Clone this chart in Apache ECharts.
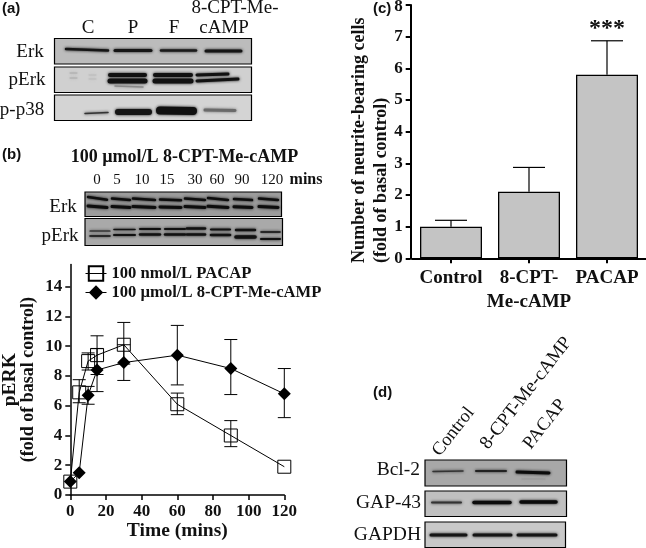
<!DOCTYPE html>
<html>
<head>
<meta charset="utf-8">
<style>html,body{margin:0;padding:0;background:#fff}#c{width:646px;height:548px}</style>
<script src="https://cdn.jsdelivr.net/npm/echarts@6/dist/echarts.min.js"></script>
</head>
<body>
<div id="c"></div>
<script>
const timePoints = [0, 5, 10, 15, 30, 60, 90, 120];
const pacapName = '100 nmol/L PACAP';
const pacapMean = [0.9, 6.9, 9.0, 9.4, 10.1, 6.1, 4.0, 1.9];
const pacapLow = [null, 6.2, 8.4, 8.1, 8.8, 5.4, 3.25, null];
const pacapHigh = [null, 7.75, 9.55, 10.7, 11.6, 6.85, 5.0, null];
const campName = '100 µmol/L 8-CPT-Me-cAMP';
const campMean = [0.9, 1.5, 6.7, 8.4, 8.9, 9.4, 8.5, 6.8];
const campLow = [null, null, 6.1, 6.95, 7.7, 7.4, 6.75, 5.2];
const campHigh = [null, null, 7.3, 9.85, 10.1, 11.4, 10.45, 8.5];
const lineYTicks = [0, 2, 4, 6, 8, 10, 12, 14];

const barCategories = ['Control', '8-CPT-\nMe-cAMP', 'PACAP'];
const barMean = [1.0, 2.1, 5.8];
const barHigh = [1.2, 2.87, 6.87];
const barSig = ['', '', '***'];

const SERIF = '"Liberation Serif","Times New Roman",serif';
const SANS = '"Liberation Sans",Arial,sans-serif';
const g = [];
function txt(x, y, text, size, o) {
  o = o || {};
  g.push({
    type: 'text', x, y, rotation: o.rot || 0, silent: true, z: 10,
    style: {
      text, fill: '#111', align: o.align || 'center', verticalAlign: 'middle',
      font: (o.bold ? 'bold ' : '') + size + 'px ' + (o.fam || SERIF)
    }
  });
}
function box(x1, y1, x2, y2, bg) {
  g.push({
    type: 'rect', silent: true, z: 5,
    shape: { x: x1, y: y1, width: x2 - x1, height: y2 - y1 },
    style: { fill: bg, stroke: '#000', lineWidth: 1.2 }
  });
}
function band(x1, y1, x2, y2, w, col) {
  g.push({
    type: 'line', silent: true, z: 6,
    shape: { x1, y1, x2, y2 },
    style: { stroke: col || '#111', lineWidth: w, lineCap: 'round', shadowBlur: 3, shadowColor: col || '#111' }
  });
}
txt(2, 9, '(a)', 15, { bold: 1, fam: SANS, align: 'left' });
txt(2, 155, '(b)', 15, { bold: 1, fam: SANS, align: 'left' });
txt(373, 9, '(c)', 15, { bold: 1, fam: SANS, align: 'left' });
txt(373, 393, '(d)', 15, { bold: 1, fam: SANS, align: 'left' });

// panel a
txt(88, 28, 'C', 19); txt(133, 28, 'P', 19); txt(174, 28, 'F', 19);
txt(235, 8, '8-CPT-Me-', 19); txt(224, 28, 'cAMP', 19);
txt(30, 52, 'Erk', 19); txt(27, 80, 'pErk', 19); txt(22, 110, 'p-p38', 19);
box(54.5, 38.5, 251.5, 64, '#bcbcbc');
band(66, 49, 108, 50.5, 2.5, '#151515'); band(115, 50.5, 151, 50.5, 3, '#151515');
band(161, 50.5, 196, 50.5, 2.5, '#1a1a1a'); band(206, 51, 241, 51, 3, '#151515');
box(54.5, 67, 251.5, 92.5, '#d0d0d0');
band(70, 73, 77, 73, 1, '#aaa'); band(70, 78, 77, 78, 1, '#aaa'); band(89, 75, 96, 75, 1, '#bbb'); band(89, 79, 96, 79, 1, '#bbb');
band(110, 75, 145, 75, 4, '#111'); band(110, 81, 145, 81, 5, '#111'); band(115, 86, 143, 87, 1.5, '#888');
band(155, 75, 191, 75, 4, '#111'); band(155, 81, 191, 81, 5, '#111');
band(197, 75, 228, 74, 3, '#111'); band(197, 81, 238, 79, 3, '#111');
box(54.5, 95, 251.5, 120.5, '#d4d4d4');
band(85, 113.5, 108, 112.5, 1.5, '#333'); band(118, 112, 149, 112, 6, '#151515');
band(160, 110.5, 193, 111, 8, '#101010'); band(205, 110, 235, 110.5, 3, '#6a6a6a');

// panel b
txt(184.5, 157, '100 µmol/L 8-CPT-Me-cAMP', 18, { bold: 1 });
[[97, '0'], [117, '5'], [142, '10'], [167, '15'], [195, '30'], [217, '60'], [242, '90'], [272, '120']]
  .forEach(p => txt(p[0], 180, p[1], 15));
txt(306, 180, 'mins', 16, { bold: 1 });
txt(63, 207, 'Erk', 19); txt(60, 236, 'pErk', 19);
box(85, 192, 281.5, 216.5, '#9c9c9c');
[[88, 107, -1.5], [112, 130, 0], [133, 155, 0], [160, 181, 1], [185, 205, 0], [208, 228, -0.5], [234, 252, 0.5], [259, 278, 0]]
  .forEach(l => {
    band(l[0], 198.5 + l[2], l[1], 200 + l[2] * 0.2, 2.5, '#0d0d0d');
    band(l[0], 206.5 + l[2] * 0.4, l[1], 207.5, 3, '#0d0d0d');
  });
box(85, 218.5, 282.5, 245.5, '#a9a9a9');
[[90, 110, 231, 1.2, 236, 1.6], [114, 135, 229.5, 1.6, 235, 2], [140, 160, 229, 2.2, 234.5, 2.4], [165, 185, 229, 2.2, 234.5, 2.4],
 [187, 205, 228.5, 2.6, 234.5, 2.6], [211, 230, 229.5, 2.2, 235, 2.6], [236, 255, 230, 2.4, 237, 3.6], [261, 280, 232, 1.6, 239, 2.2]]
  .forEach(l => { band(l[0], l[2], l[1], l[2], l[3], '#111'); band(l[0], l[4], l[1], l[4], l[5], '#111'); });

// panel d
const rot = 52 * Math.PI / 180;
txt(436, 454, 'Control', 18.5, { align: 'left', rot });
txt(484, 447, '8-CPT-Me-cAMP', 19, { align: 'left', rot });
txt(527, 447, 'PACAP', 18.5, { align: 'left', rot });
txt(420, 470, 'Bcl-2', 19.5, { align: 'right' });
txt(421, 503, 'GAP-43', 19.5, { align: 'right' });
txt(421, 535, 'GAPDH', 19.5, { align: 'right' });
box(425, 460, 566.5, 486, '#a8a8a8');
band(433, 471.5, 463, 471, 1.5, '#333'); band(476, 471, 506, 471, 2, '#222'); band(517, 472, 549, 473, 3, '#0c0c0c');
band(522, 479, 545, 479, 1, '#999');
box(425, 491, 566.5, 516.5, '#c0c0c0');
band(432, 502.5, 461, 502.5, 2, '#333'); band(474, 502.5, 510, 502.5, 3.5, '#0c0c0c'); band(521, 502, 556, 502, 3.5, '#0c0c0c');
box(425, 522, 565.5, 547.5, '#c8c8c8');
band(431, 535, 466, 535, 3, '#151515'); band(474, 535, 511, 535, 3, '#151515'); band(518, 535, 556, 535, 3, '#151515');

function axisCommon(extra) {
  return Object.assign({
    axisLine: { show: true, onZero: false, lineStyle: { color: '#000', width: 1.5 } },
    axisTick: { show: true, length: 5, lineStyle: { color: '#000', width: 1.5 } },
    axisLabel: { color: '#111', fontFamily: SERIF, fontWeight: 'bold', fontSize: 17 },
    splitLine: { show: false }
  }, extra);
}
const errRows = (mean, lo, hi) => timePoints.map((t, i) => [t, lo[i], hi[i], mean[i]]);
function lineErr(params, api) {
  const x = api.value(0), lo = api.value(1), hi = api.value(2);
  if (isNaN(lo) || isNaN(hi)) return null;
  const a = api.coord([x, lo]), b = api.coord([x, hi]);
  const cap = 6.5, st = { stroke: '#000', lineWidth: 1, fill: 'none' };
  return {
    type: 'group', children: [
      { type: 'line', shape: { x1: a[0], y1: a[1], x2: b[0], y2: b[1] }, style: st },
      { type: 'line', shape: { x1: a[0] - cap, y1: a[1], x2: a[0] + cap, y2: a[1] }, style: st },
      { type: 'line', shape: { x1: b[0] - cap, y1: b[1], x2: b[0] + cap, y2: b[1] }, style: st }
    ]
  };
}
function barErr(params, api) {
  const i = api.value(0), m = api.coord([i, api.value(1)]), h = api.coord([i, api.value(2)]);
  const sig = barSig[params.dataIndex], st = { stroke: '#000', lineWidth: 1.2, fill: 'none' };
  const kids = [
    { type: 'line', shape: { x1: m[0], y1: m[1], x2: h[0], y2: h[1] }, style: st },
    { type: 'line', shape: { x1: h[0] - 16, y1: h[1], x2: h[0] + 16, y2: h[1] }, style: st }
  ];
  if (sig) kids.push({
    type: 'text', x: h[0], y: h[1] - 12,
    style: { text: sig, fill: '#111', font: 'bold 24px ' + SERIF, align: 'center', verticalAlign: 'middle' }
  });
  return { type: 'group', children: kids };
}

const chart = echarts.init(document.getElementById('c'), null, { renderer: 'canvas' });
chart.setOption({
  animation: false,
  backgroundColor: '#fff',
  grid: [
    { left: 70.3, top: 264.4, width: 214, height: 230.6, outerBoundsMode: 'none' },
    { left: 412, top: 5, width: 234, height: 253.3, outerBoundsMode: 'none' }
  ],
  legend: {
    data: [pacapName, campName], orient: 'vertical', left: 85, top: 265, padding: 0,
    itemWidth: 21, itemHeight: 18, itemGap: 2,
    lineStyle: { width: 1 },
    textStyle: { color: '#111', fontFamily: SERIF, fontWeight: 'bold', fontSize: 16.6 }
  },
  xAxis: [
    axisCommon({
      gridIndex: 0, type: 'value', min: 0, max: 120, interval: 20,
      name: 'Time (mins)', nameLocation: 'middle', nameGap: 25,
      nameTextStyle: { color: '#111', fontFamily: SERIF, fontWeight: 'bold', fontSize: 19.5 }
    }),
    axisCommon({
      gridIndex: 1, type: 'category', data: barCategories,
      axisTick: { show: true, alignWithLabel: true, length: 5, lineStyle: { color: '#000', width: 2 } },
      axisLine: { show: true, lineStyle: { color: '#000', width: 2 } },
      axisLabel: { interval: 0, color: '#111', fontFamily: SERIF, fontWeight: 'bold', fontSize: 19, lineHeight: 24, margin: 8 }
    })
  ],
  yAxis: [
    axisCommon({
      gridIndex: 0, type: 'value', min: 0, max: 15.5,
      axisLabel: { color: '#111', fontFamily: SERIF, fontWeight: 'bold', fontSize: 17, customValues: lineYTicks },
      axisTick: { show: true, length: 5, lineStyle: { color: '#000', width: 1.5 }, customValues: lineYTicks },
      name: '{a|pERK}\n{b|(fold of basal control)}', nameLocation: 'middle', nameGap: 32.5,
      nameTextStyle: { color: '#111', fontFamily: SERIF, fontWeight: 'bold', rich: {
        a: { fontFamily: SERIF, fontWeight: 'bold', fontSize: 19.5, lineHeight: 20, color: '#111' },
        b: { fontFamily: SERIF, fontWeight: 'bold', fontSize: 18, lineHeight: 18, color: '#111' }
      } }
    }),
    axisCommon({
      gridIndex: 1, type: 'value', min: 0, max: 8, interval: 1, offset: 1.3,
      axisLine: { show: true, lineStyle: { color: '#000', width: 2 } },
      axisTick: { show: true, length: 5, lineStyle: { color: '#000', width: 2 } },
      axisLabel: {
        color: '#111', fontFamily: SERIF, fontWeight: 'bold', fontSize: 17,
        formatter: v => v === 8 ? '{t|8}' : String(v),
        rich: { t: { fontFamily: SERIF, fontWeight: 'bold', fontSize: 17, color: '#111', padding: [4, 0, 0, 0] } }
      },
      name: '{a|Number of neurite-bearing cells}\n{a|(fold of basal control)}', nameLocation: 'middle', nameGap: 12.5,
      nameTextStyle: { color: '#111', fontFamily: SERIF, fontWeight: 'bold', padding: [0, 17, 0, 0], rich: {
        a: { fontFamily: SERIF, fontWeight: 'bold', fontSize: 18, lineHeight: 22, color: '#111', align: 'left' }
      } }
    })
  ],
  series: [
    { type: 'custom', xAxisIndex: 0, yAxisIndex: 0, renderItem: lineErr, data: errRows(pacapMean, pacapLow, pacapHigh), encode: { x: 0, y: [1, 2] }, z: 2, silent: true },
    { type: 'custom', xAxisIndex: 0, yAxisIndex: 0, renderItem: lineErr, data: errRows(campMean, campLow, campHigh), encode: { x: 0, y: [1, 2] }, z: 2, silent: true },
    {
      name: pacapName, type: 'line', xAxisIndex: 0, yAxisIndex: 0, z: 3, clip: false,
      data: timePoints.map((t, i) => [t, pacapMean[i]]),
      symbol: 'rect', symbolSize: 13, showAllSymbol: true,
      lineStyle: { color: '#000', width: 1 },
      itemStyle: { color: 'transparent', borderColor: '#000', borderWidth: 1 }
    },
    {
      name: campName, type: 'line', xAxisIndex: 0, yAxisIndex: 0, z: 4, clip: false,
      data: timePoints.map((t, i) => [t, campMean[i]]),
      symbol: 'diamond', symbolSize: 13, showAllSymbol: true,
      lineStyle: { color: '#000', width: 1 },
      itemStyle: { color: '#000' }
    },
    {
      type: 'bar', xAxisIndex: 1, yAxisIndex: 1, data: barMean, barWidth: 62, z: 2,
      itemStyle: { color: '#c4c4c4', borderColor: '#000', borderWidth: 1.3 }
    },
    {
      type: 'custom', xAxisIndex: 1, yAxisIndex: 1, renderItem: barErr, z: 3, silent: true,
      data: barMean.map((m, i) => [i, m, barHigh[i]]), encode: { x: 0, y: [1, 2] }
    }
  ],
  graphic: g
});
</script>
</body>
</html>
